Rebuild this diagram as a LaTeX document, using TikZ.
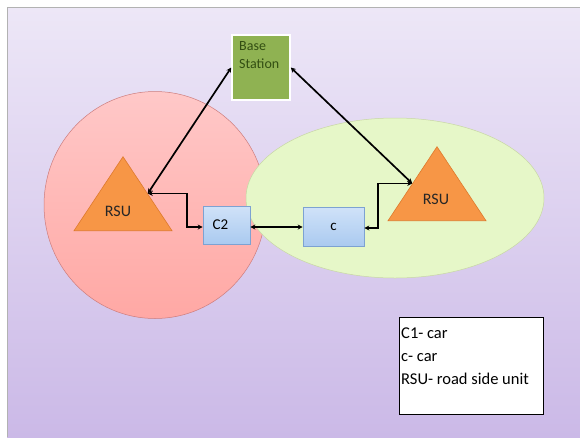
\documentclass[tikz,border=0pt]{standalone}
\usepackage{fontspec}
\setmainfont{Carlito}
\usetikzlibrary{arrows.meta, shapes.geometric, calc}

\definecolor{bgtop}{RGB}{237,231,247}
\definecolor{bgbot}{RGB}{203,185,231}
\definecolor{zonered}{RGB}{255,168,164}
\definecolor{zoneredtop}{RGB}{255,200,200}
\definecolor{zonereddraw}{RGB}{205,125,125}
\definecolor{zonegreen}{RGB}{230,247,200}
\definecolor{zonegreendraw}{RGB}{200,215,165}
\definecolor{rsuorange}{RGB}{247,150,70}
\definecolor{rsudraw}{RGB}{222,122,45}
\definecolor{carblue}{RGB}{170,202,240}
\definecolor{carbluetop}{RGB}{208,226,248}
\definecolor{carbluedraw}{RGB}{125,162,210}
\definecolor{bsgreen}{RGB}{143,178,82}
\definecolor{bstext}{RGB}{50,78,18}

\begin{document}
\begin{tikzpicture}[
            x = 1pt, y = -1pt, % image pixels
            > = {Stealth[length=5pt, width=5pt]}, % arrow head style
            link/.style = {<->, line width=1.7pt, black},
            zone/.style = {ellipse, draw, line width=0.5pt},
            rsu/.style = {isosceles triangle, isosceles triangle stretches,
                shape border rotate=90, fill=rsuorange, draw=rsudraw,
                line width=0.6pt, inner sep=0pt, anchor=lower side,
                minimum width=98pt, minimum height=74pt},
            rsutext/.style = {font=\fontsize{16pt}{18pt}\selectfont, text=black!85},
            car/.style = {rectangle, draw=carbluedraw, line width=0.6pt,
                top color=carbluetop, bottom color=carblue,
                font=\fontsize{15pt}{17pt}\selectfont, inner sep=0pt}
        ]

        % background
        \useasboundingbox (0,0) rectangle (580,437);
        \shade[top color=bgtop, bottom color=bgbot] (7,7) rectangle (580,437);
        \draw[gray!60, line width=0.5pt] (7,437) -- (7,7) -- (580,7);

        % coverage zones
        \node[zone, top color=zoneredtop, bottom color=zonered, draw=zonereddraw,
            minimum width=222pt, minimum height=227pt] (zoneL) at (155,205) {};
        \node[zone, fill=zonegreen, draw=zonegreendraw,
            minimum width=298pt, minimum height=160pt] (zoneR) at (395,198) {};

        % road side units
        \node[rsu] (rsuL) at (123,231) {};
        \node[rsu] (rsuR) at (437,221) {};
        \node[rsutext] (rsuLtext) at ($(rsuL.lower side)+(-5,-20)$) {RSU};
        \node[rsutext] (rsuRtext) at ($(rsuR.lower side)+(-1,-22)$) {RSU};

        % base station
        \node[rectangle, fill=bsgreen, draw=white, line width=1.5pt,
            minimum width=58pt, minimum height=65pt] (bs) at (261,67.5) {};
        \node[anchor=north west, align=left, inner sep=0pt, text=bstext,
            font=\fontsize{14pt}{18pt}\selectfont] (bstext) at (239,41)
            {Base\\Station};

        % cars
        \node[car, minimum width=47pt, minimum height=38pt] (carA) at (226.5,225) {\hspace*{-12pt}C2};
        \node[car, minimum width=61pt, minimum height=39pt] (carB) at (333.5,226.5) {c};

        % links
        \draw[link] (rsuL.right side) -- (bs.west);
        \draw[link] (rsuR.left side) -- (bs.east);
        \draw[link] (rsuL.right side) -| (187,227) -- (carA.west |- 0,227);
        \draw[link] (carA.east |- 0,227) -- (carB.west |- 0,227);
        \draw[link] (rsuR.left side) -| (378,228) -- (carB.east |- 0,228);

        % legend
        \node[rectangle, draw=black, line width=1.2pt, fill=white,
            minimum width=144pt, minimum height=97pt, anchor=north west,
            inner sep=0pt] (legend) at (399,317) {};
        \node[anchor=north west, align=left, inner sep=0pt,
            font=\fontsize{16.5pt}{23pt}\selectfont] (legendtext) at (401,328)
            {C1- car\\c- car\\RSU- road side unit};

  \end{tikzpicture}
\end{document}
